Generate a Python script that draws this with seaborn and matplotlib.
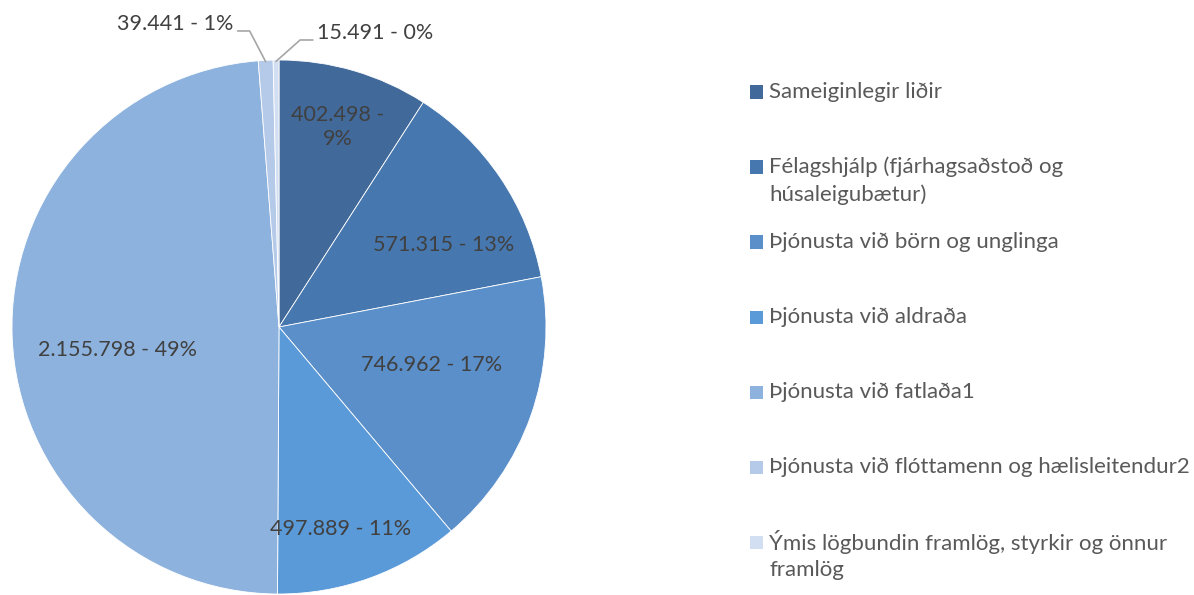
import numpy as np
import matplotlib.pyplot as plt
from matplotlib.patches import Rectangle
import seaborn as sns

categories = [
    "Sameiginlegir liðir",
    "Félagshjálp (fjárhagsaðstoð og\nhúsaleigubætur)",
    "Þjónusta við börn og unglinga",
    "Þjónusta við aldraða",
    "Þjónusta við fatlaða1",
    "Þjónusta við flóttamenn og hælisleitendur2",
    "Ýmis lögbundin framlög, styrkir og önnur\nframlög",
]
values = [402498, 571315, 746962, 497889, 2155798, 39441, 15491]
value_labels = ["402.498", "571.315", "746.962", "497.889", "2.155.798", "39.441", "15.491"]
pct_labels = ["9%", "13%", "17%", "11%", "49%", "1%", "0%"]

colors = ["#41699a", "#4677ae", "#5b8fc9", "#5b9ad8", "#8db2de", "#b5cae8", "#d2def1"]
text_color = "#404040"

sns.set_theme(style="white")
plt.rcParams['font.family'] = ['Lato', 'DejaVu Sans']

W, H = 1194, 595
fig = plt.figure(figsize=(W / 100, H / 100), dpi=100)
cx, cy, R = 279, 327, 267
ax = fig.add_axes([(cx - R) / W, (H - cy - R) / H, 2 * R / W, 2 * R / H])

wedges, _ = ax.pie(values, colors=colors, startangle=90, counterclock=False,
                   radius=1, wedgeprops=dict(edgecolor="white", linewidth=0.6))
ax.set_xlim(-1, 1)
ax.set_ylim(-1, 1)
ax.set_axis_off()

# inside labels (radial distance and clockwise nudge per slice)
rad = [0.78, 0.69, 0.59, 0.79, 0.61]
shift = [0, 7.7, -5.5, 3, -6]
for i in range(5):
    w = wedges[i]
    ang = np.deg2rad((w.theta1 + w.theta2) / 2 - shift[i])
    x, y = rad[i] * np.cos(ang), rad[i] * np.sin(ang)
    if i == 0:
        txt = f"{value_labels[i]} -\n{pct_labels[i]}"
    else:
        txt = f"{value_labels[i]} - {pct_labels[i]}"
    ax.text(x, y, txt, ha="center", va="center", fontsize=15.5, color=text_color,
            linespacing=1.25)

# outside labels with leader lines
outside = {5: ((-0.06, 0.115), (-0.045, 0), "right"),
           6: ((0.09, 0.08), (0.048, 0), "left")}
for i, (elbow, run, side) in outside.items():
    w = wedges[i]
    ang = np.deg2rad((w.theta1 + w.theta2) / 2)
    x0, y0 = np.cos(ang), np.sin(ang) - 0.005
    x1, y1 = x0 + elbow[0], y0 + elbow[1]
    x2, y2 = x1 + run[0], y1
    ax.plot([x0, x1, x2], [y0, y1, y2], color="#a6a6a6", lw=1.2, clip_on=False)
    off = -0.015 if side == "right" else 0.015
    ax.text(x2 + off, y2 + 0.025, f"{value_labels[i]} - {pct_labels[i]}",
            ha=side, va="center", fontsize=15.5, color=text_color)

# legend
lx, ly0, step, line_h = 750, 92, 75, 28
for i, lab in enumerate(categories):
    y = ly0 + i * step
    fig.patches.append(Rectangle((lx / W, (H - y - 6.5) / H), 13 / W, 13 / H,
                                 transform=fig.transFigure, facecolor=colors[i],
                                 edgecolor="none"))
    for j, line in enumerate(lab.split("\n")):
        fig.text((lx + 19) / W, (H - y - j * line_h) / H, line, ha="left", va="center",
                 fontsize=16, color="#595959")

fig.savefig("out.png", dpi=100)
